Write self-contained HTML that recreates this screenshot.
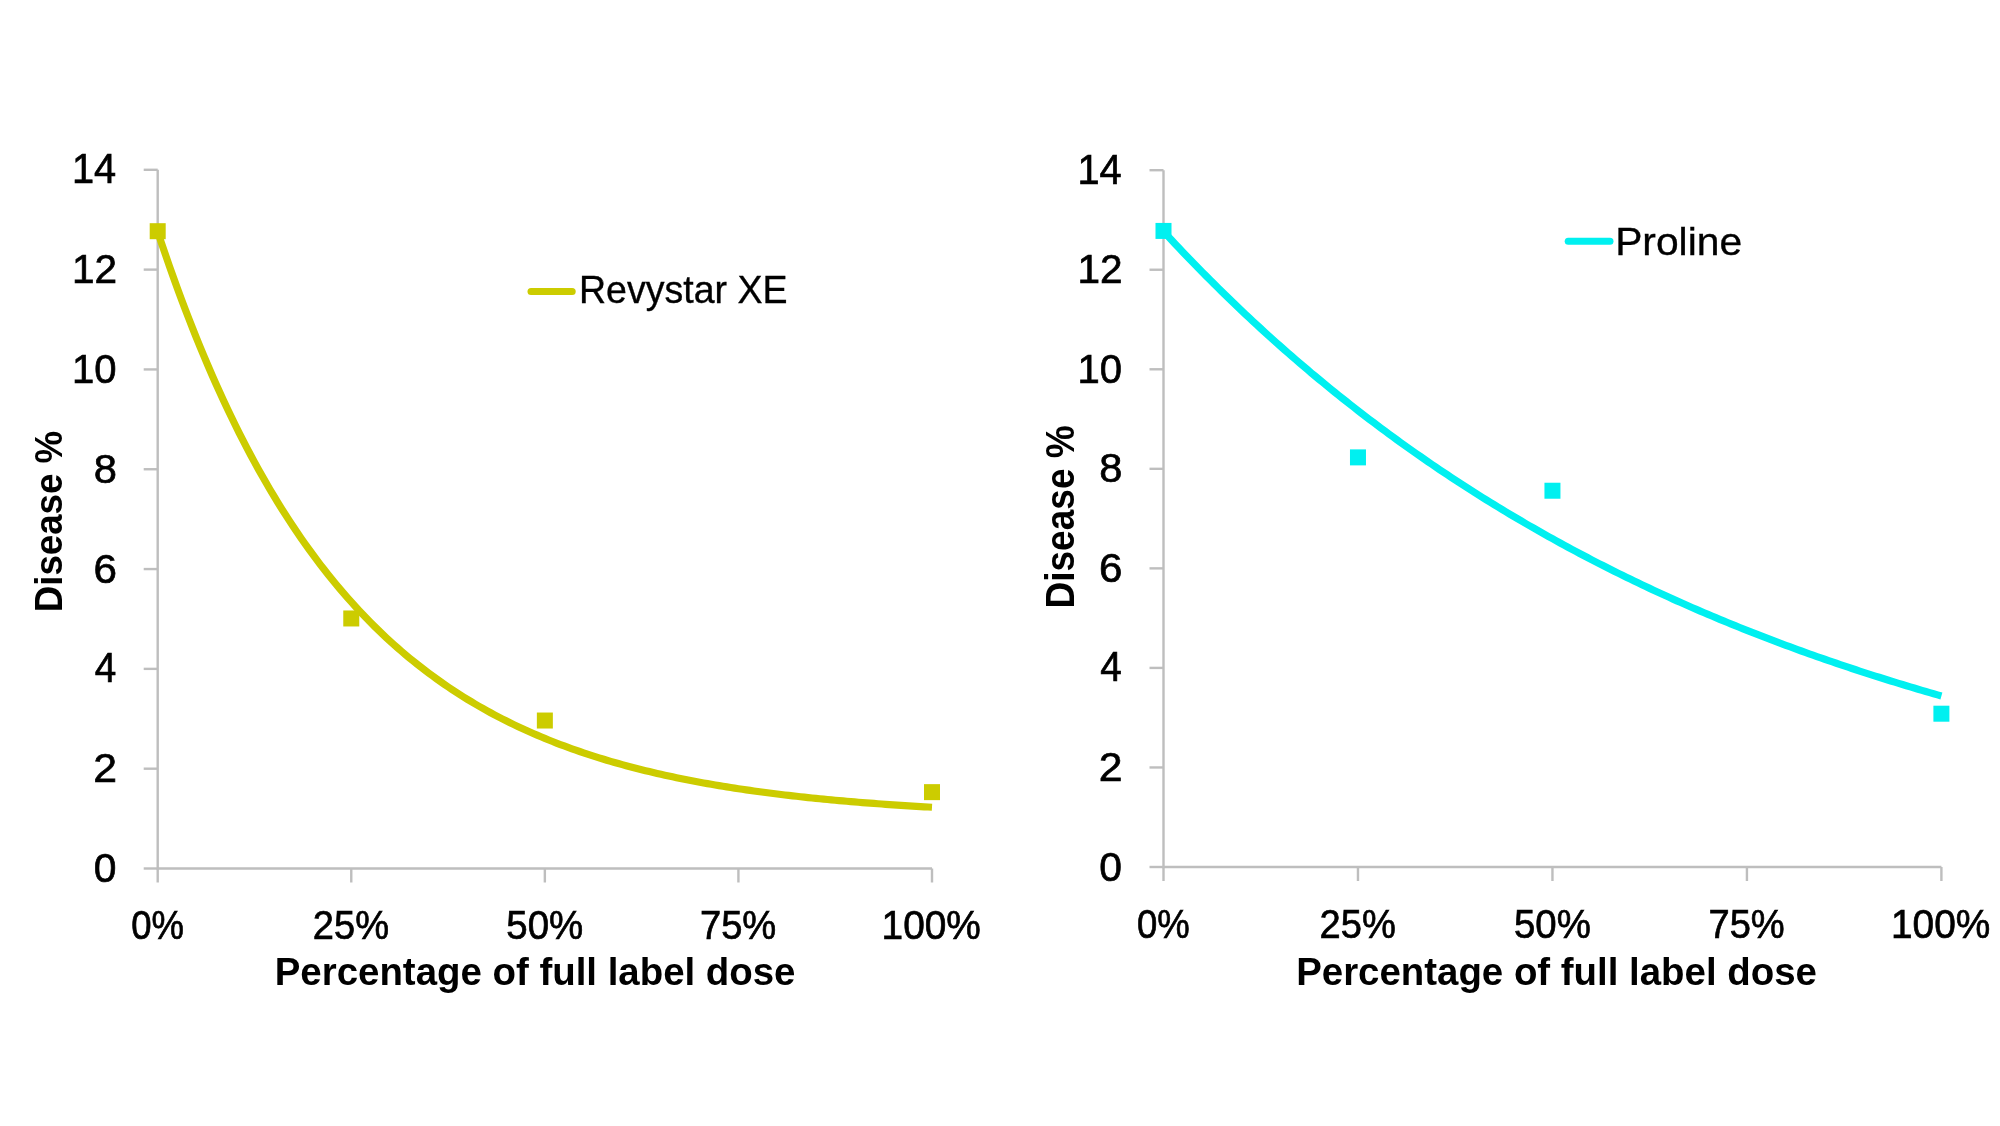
<!DOCTYPE html>
<html><head><meta charset="utf-8"><style>html,body{margin:0;padding:0;background:#fff;width:2000px;height:1126px;overflow:hidden}</style></head>
<body>
<svg width="2000" height="1126" viewBox="0 0 2000 1126" style="position:absolute;left:0;top:0;font-family:'Liberation Sans',sans-serif;filter:blur(0.6px)">
<rect width="2000" height="1126" fill="#fff"/>
<path d="M157.70,169.80 V868.50 H932.00" fill="none" stroke="#BEBEBE" stroke-width="2.4"/>
<path d="M143.70,868.50 H157.70" stroke="#BEBEBE" stroke-width="2.4"/>
<path d="M143.70,768.69 H157.70" stroke="#BEBEBE" stroke-width="2.4"/>
<path d="M143.70,668.87 H157.70" stroke="#BEBEBE" stroke-width="2.4"/>
<path d="M143.70,569.06 H157.70" stroke="#BEBEBE" stroke-width="2.4"/>
<path d="M143.70,469.24 H157.70" stroke="#BEBEBE" stroke-width="2.4"/>
<path d="M143.70,369.43 H157.70" stroke="#BEBEBE" stroke-width="2.4"/>
<path d="M143.70,269.61 H157.70" stroke="#BEBEBE" stroke-width="2.4"/>
<path d="M143.70,169.80 H157.70" stroke="#BEBEBE" stroke-width="2.4"/>
<path d="M157.70,868.50 V882.50" stroke="#BEBEBE" stroke-width="2.4"/>
<path d="M351.27,868.50 V882.50" stroke="#BEBEBE" stroke-width="2.4"/>
<path d="M544.85,868.50 V882.50" stroke="#BEBEBE" stroke-width="2.4"/>
<path d="M738.42,868.50 V882.50" stroke="#BEBEBE" stroke-width="2.4"/>
<path d="M932.00,868.50 V882.50" stroke="#BEBEBE" stroke-width="2.4"/>
<text transform="translate(93.87,882.00) scale(0.9819,1)" style="font-size:41.55px;" fill="#000" stroke="#000" stroke-width="0.7">0</text>
<text transform="translate(93.36,782.19) scale(1.0293,1)" style="font-size:41.55px;" fill="#000" stroke="#000" stroke-width="0.7">2</text>
<text transform="translate(94.65,682.37) scale(0.9179,1)" style="font-size:42.15px;" fill="#000" stroke="#000" stroke-width="0.7">4</text>
<text transform="translate(93.39,582.56) scale(1.0159,1)" style="font-size:41.55px;" fill="#000" stroke="#000" stroke-width="0.7">6</text>
<text transform="translate(93.67,482.74) scale(1.0029,1)" style="font-size:41.55px;" fill="#000" stroke="#000" stroke-width="0.7">8</text>
<text transform="translate(71.95,382.93) scale(0.9647,1)" style="font-size:41.55px;" fill="#000" stroke="#000" stroke-width="0.7">10</text>
<text transform="translate(71.92,283.11) scale(0.9764,1)" style="font-size:41.55px;" fill="#000" stroke="#000" stroke-width="0.7">12</text>
<text transform="translate(71.98,183.30) scale(0.9433,1)" style="font-size:42.15px;" fill="#000" stroke="#000" stroke-width="0.7">14</text>
<text transform="translate(131.24,938.50) scale(0.9098,1)" style="font-size:40.11px;" fill="#000" stroke="#000" stroke-width="0.7">0%</text>
<text transform="translate(312.87,938.50) scale(0.9498,1)" style="font-size:40.11px;" fill="#000" stroke="#000" stroke-width="0.7">25%</text>
<text transform="translate(506.31,938.50) scale(0.9578,1)" style="font-size:40.11px;" fill="#000" stroke="#000" stroke-width="0.7">50%</text>
<text transform="translate(699.94,938.50) scale(0.9453,1)" style="font-size:40.35px;" fill="#000" stroke="#000" stroke-width="0.7">75%</text>
<text transform="translate(881.55,938.50) scale(0.9682,1)" style="font-size:40.11px;" fill="#000" stroke="#000" stroke-width="0.7">100%</text>
<path d="M157.70,231.73 L161.57,243.32 L165.44,254.68 L169.31,265.82 L173.19,276.74 L177.06,287.44 L180.93,297.93 L184.80,308.21 L188.67,318.28 L192.54,328.16 L196.41,337.85 L200.29,347.34 L204.16,356.64 L208.03,365.76 L211.90,374.70 L215.77,383.47 L219.64,392.06 L223.52,400.48 L227.39,408.73 L231.26,416.82 L235.13,424.75 L239.00,432.53 L242.87,440.15 L246.74,447.62 L250.62,454.94 L254.49,462.12 L258.36,469.15 L262.23,476.05 L266.10,482.81 L269.97,489.44 L273.84,495.93 L277.72,502.30 L281.59,508.54 L285.46,514.66 L289.33,520.66 L293.20,526.53 L297.07,532.30 L300.95,537.95 L304.82,543.48 L308.69,548.91 L312.56,554.23 L316.43,559.44 L320.30,564.56 L324.17,569.57 L328.05,574.48 L331.92,579.29 L335.79,584.01 L339.66,588.64 L343.53,593.17 L347.40,597.62 L351.27,601.98 L355.15,606.25 L359.02,610.43 L362.89,614.54 L366.76,618.56 L370.63,622.50 L374.50,626.37 L378.38,630.16 L382.25,633.87 L386.12,637.51 L389.99,641.08 L393.86,644.58 L397.73,648.01 L401.60,651.37 L405.48,654.66 L409.35,657.89 L413.22,661.06 L417.09,664.16 L420.96,667.20 L424.83,670.18 L428.70,673.11 L432.58,675.97 L436.45,678.78 L440.32,681.53 L444.19,684.23 L448.06,686.88 L451.93,689.47 L455.81,692.01 L459.68,694.50 L463.55,696.94 L467.42,699.34 L471.29,701.68 L475.16,703.98 L479.03,706.24 L482.91,708.45 L486.78,710.62 L490.65,712.74 L494.52,714.82 L498.39,716.86 L502.26,718.86 L506.13,720.82 L510.01,722.74 L513.88,724.63 L517.75,726.47 L521.62,728.28 L525.49,730.06 L529.36,731.80 L533.24,733.50 L537.11,735.17 L540.98,736.81 L544.85,738.42 L548.72,739.99 L552.59,741.53 L556.46,743.05 L560.34,744.53 L564.21,745.98 L568.08,747.41 L571.95,748.80 L575.82,750.17 L579.69,751.51 L583.57,752.83 L587.44,754.12 L591.31,755.38 L595.18,756.62 L599.05,757.83 L602.92,759.02 L606.79,760.19 L610.67,761.33 L614.54,762.46 L618.41,763.55 L622.28,764.63 L626.15,765.69 L630.02,766.72 L633.89,767.74 L637.77,768.73 L641.64,769.71 L645.51,770.66 L649.38,771.60 L653.25,772.52 L657.12,773.42 L661.00,774.30 L664.87,775.16 L668.74,776.01 L672.61,776.84 L676.48,777.66 L680.35,778.45 L684.22,779.24 L688.10,780.00 L691.97,780.76 L695.84,781.49 L699.71,782.22 L703.58,782.92 L707.45,783.62 L711.32,784.30 L715.20,784.97 L719.07,785.62 L722.94,786.26 L726.81,786.89 L730.68,787.50 L734.55,788.11 L738.42,788.70 L742.30,789.28 L746.17,789.85 L750.04,790.41 L753.91,790.95 L757.78,791.49 L761.65,792.01 L765.53,792.53 L769.40,793.03 L773.27,793.53 L777.14,794.01 L781.01,794.49 L784.88,794.95 L788.75,795.41 L792.63,795.86 L796.50,796.29 L800.37,796.72 L804.24,797.15 L808.11,797.56 L811.98,797.96 L815.86,798.36 L819.73,798.75 L823.60,799.13 L827.47,799.50 L831.34,799.87 L835.21,800.23 L839.08,800.58 L842.96,800.93 L846.83,801.27 L850.70,801.60 L854.57,801.92 L858.44,802.24 L862.31,802.55 L866.18,802.86 L870.06,803.16 L873.93,803.45 L877.80,803.74 L881.67,804.03 L885.54,804.30 L889.41,804.57 L893.28,804.84 L897.16,805.10 L901.03,805.36 L904.90,805.61 L908.77,805.85 L912.64,806.09 L916.51,806.33 L920.39,806.56 L924.26,806.79 L928.13,807.01 L932.00,807.23" fill="none" stroke="#CCCC00" stroke-width="7.2" stroke-linejoin="round"/>
<rect x="149.70" y="223.19" width="16" height="16" fill="#CCCC00"/>
<rect x="343.27" y="610.47" width="16" height="16" fill="#CCCC00"/>
<rect x="536.85" y="712.53" width="16" height="16" fill="#CCCC00"/>
<rect x="924.00" y="784.14" width="16" height="16" fill="#CCCC00"/>
<path d="M1163.50,170.20 V867.00 H1941.40" fill="none" stroke="#BEBEBE" stroke-width="2.4"/>
<path d="M1149.50,867.00 H1163.50" stroke="#BEBEBE" stroke-width="2.4"/>
<path d="M1149.50,767.46 H1163.50" stroke="#BEBEBE" stroke-width="2.4"/>
<path d="M1149.50,667.91 H1163.50" stroke="#BEBEBE" stroke-width="2.4"/>
<path d="M1149.50,568.37 H1163.50" stroke="#BEBEBE" stroke-width="2.4"/>
<path d="M1149.50,468.83 H1163.50" stroke="#BEBEBE" stroke-width="2.4"/>
<path d="M1149.50,369.29 H1163.50" stroke="#BEBEBE" stroke-width="2.4"/>
<path d="M1149.50,269.74 H1163.50" stroke="#BEBEBE" stroke-width="2.4"/>
<path d="M1149.50,170.20 H1163.50" stroke="#BEBEBE" stroke-width="2.4"/>
<path d="M1163.50,867.00 V881.00" stroke="#BEBEBE" stroke-width="2.4"/>
<path d="M1357.97,867.00 V881.00" stroke="#BEBEBE" stroke-width="2.4"/>
<path d="M1552.45,867.00 V881.00" stroke="#BEBEBE" stroke-width="2.4"/>
<path d="M1746.93,867.00 V881.00" stroke="#BEBEBE" stroke-width="2.4"/>
<path d="M1941.40,867.00 V881.00" stroke="#BEBEBE" stroke-width="2.4"/>
<text transform="translate(1099.37,880.50) scale(0.9819,1)" style="font-size:41.55px;" fill="#000" stroke="#000" stroke-width="0.7">0</text>
<text transform="translate(1098.86,780.96) scale(1.0293,1)" style="font-size:41.55px;" fill="#000" stroke="#000" stroke-width="0.7">2</text>
<text transform="translate(1100.15,681.41) scale(0.9179,1)" style="font-size:42.15px;" fill="#000" stroke="#000" stroke-width="0.7">4</text>
<text transform="translate(1098.89,581.87) scale(1.0159,1)" style="font-size:41.55px;" fill="#000" stroke="#000" stroke-width="0.7">6</text>
<text transform="translate(1099.17,482.33) scale(1.0029,1)" style="font-size:41.55px;" fill="#000" stroke="#000" stroke-width="0.7">8</text>
<text transform="translate(1077.45,382.79) scale(0.9647,1)" style="font-size:41.55px;" fill="#000" stroke="#000" stroke-width="0.7">10</text>
<text transform="translate(1077.42,283.24) scale(0.9764,1)" style="font-size:41.55px;" fill="#000" stroke="#000" stroke-width="0.7">12</text>
<text transform="translate(1077.48,183.70) scale(0.9433,1)" style="font-size:42.15px;" fill="#000" stroke="#000" stroke-width="0.7">14</text>
<text transform="translate(1137.04,938.00) scale(0.8938,1)" style="font-size:40.83px;" fill="#000" stroke="#000" stroke-width="0.7">0%</text>
<text transform="translate(1319.57,938.00) scale(0.9331,1)" style="font-size:40.83px;" fill="#000" stroke="#000" stroke-width="0.7">25%</text>
<text transform="translate(1513.91,938.00) scale(0.9410,1)" style="font-size:40.83px;" fill="#000" stroke="#000" stroke-width="0.7">50%</text>
<text transform="translate(1708.44,938.00) scale(0.9287,1)" style="font-size:41.07px;" fill="#000" stroke="#000" stroke-width="0.7">75%</text>
<text transform="translate(1890.95,938.00) scale(0.9512,1)" style="font-size:40.83px;" fill="#000" stroke="#000" stroke-width="0.7">100%</text>
<path d="M1163.50,231.43 L1167.39,235.64 L1171.28,239.81 L1175.17,243.96 L1179.06,248.07 L1182.95,252.16 L1186.84,256.23 L1190.73,260.26 L1194.62,264.27 L1198.51,268.26 L1202.39,272.21 L1206.28,276.14 L1210.17,280.05 L1214.06,283.92 L1217.95,287.78 L1221.84,291.60 L1225.73,295.40 L1229.62,299.18 L1233.51,302.93 L1237.40,306.65 L1241.29,310.35 L1245.18,314.03 L1249.07,317.68 L1252.96,321.30 L1256.85,324.90 L1260.74,328.48 L1264.63,332.04 L1268.52,335.57 L1272.41,339.07 L1276.30,342.56 L1280.18,346.02 L1284.07,349.45 L1287.96,352.87 L1291.85,356.26 L1295.74,359.63 L1299.63,362.97 L1303.52,366.30 L1307.41,369.60 L1311.30,372.88 L1315.19,376.13 L1319.08,379.37 L1322.97,382.58 L1326.86,385.78 L1330.75,388.95 L1334.64,392.10 L1338.53,395.23 L1342.42,398.34 L1346.31,401.42 L1350.20,404.49 L1354.09,407.54 L1357.97,410.56 L1361.86,413.57 L1365.75,416.55 L1369.64,419.52 L1373.53,422.47 L1377.42,425.39 L1381.31,428.30 L1385.20,431.19 L1389.09,434.06 L1392.98,436.90 L1396.87,439.73 L1400.76,442.55 L1404.65,445.34 L1408.54,448.11 L1412.43,450.87 L1416.32,453.60 L1420.21,456.32 L1424.10,459.02 L1427.99,461.71 L1431.88,464.37 L1435.76,467.02 L1439.65,469.65 L1443.54,472.26 L1447.43,474.85 L1451.32,477.43 L1455.21,479.99 L1459.10,482.53 L1462.99,485.05 L1466.88,487.56 L1470.77,490.05 L1474.66,492.53 L1478.55,494.99 L1482.44,497.43 L1486.33,499.86 L1490.22,502.27 L1494.11,504.66 L1498.00,507.04 L1501.89,509.40 L1505.78,511.75 L1509.67,514.08 L1513.56,516.39 L1517.44,518.69 L1521.33,520.97 L1525.22,523.24 L1529.11,525.50 L1533.00,527.73 L1536.89,529.96 L1540.78,532.17 L1544.67,534.36 L1548.56,536.54 L1552.45,538.70 L1556.34,540.85 L1560.23,542.99 L1564.12,545.11 L1568.01,547.22 L1571.90,549.31 L1575.79,551.39 L1579.68,553.46 L1583.57,555.51 L1587.46,557.55 L1591.35,559.57 L1595.23,561.58 L1599.12,563.58 L1603.01,565.57 L1606.90,567.54 L1610.79,569.49 L1614.68,571.44 L1618.57,573.37 L1622.46,575.29 L1626.35,577.20 L1630.24,579.09 L1634.13,580.97 L1638.02,582.84 L1641.91,584.69 L1645.80,586.54 L1649.69,588.37 L1653.58,590.19 L1657.47,591.99 L1661.36,593.79 L1665.25,595.57 L1669.14,597.34 L1673.02,599.10 L1676.91,600.85 L1680.80,602.58 L1684.69,604.30 L1688.58,606.02 L1692.47,607.72 L1696.36,609.41 L1700.25,611.09 L1704.14,612.75 L1708.03,614.41 L1711.92,616.05 L1715.81,617.69 L1719.70,619.31 L1723.59,620.92 L1727.48,622.52 L1731.37,624.11 L1735.26,625.69 L1739.15,627.26 L1743.04,628.82 L1746.93,630.37 L1750.81,631.91 L1754.70,633.44 L1758.59,634.95 L1762.48,636.46 L1766.37,637.96 L1770.26,639.45 L1774.15,640.93 L1778.04,642.39 L1781.93,643.85 L1785.82,645.30 L1789.71,646.74 L1793.60,648.17 L1797.49,649.59 L1801.38,651.00 L1805.27,652.40 L1809.16,653.79 L1813.05,655.17 L1816.94,656.54 L1820.83,657.91 L1824.72,659.26 L1828.60,660.61 L1832.49,661.94 L1836.38,663.27 L1840.27,664.59 L1844.16,665.90 L1848.05,667.20 L1851.94,668.49 L1855.83,669.77 L1859.72,671.05 L1863.61,672.32 L1867.50,673.57 L1871.39,674.82 L1875.28,676.07 L1879.17,677.30 L1883.06,678.52 L1886.95,679.74 L1890.84,680.95 L1894.73,682.15 L1898.62,683.34 L1902.51,684.53 L1906.39,685.70 L1910.28,686.87 L1914.17,688.03 L1918.06,689.19 L1921.95,690.33 L1925.84,691.47 L1929.73,692.60 L1933.62,693.72 L1937.51,694.84 L1941.40,695.95" fill="none" stroke="#00F0F0" stroke-width="7.2" stroke-linejoin="round"/>
<rect x="1155.50" y="222.92" width="16" height="16" fill="#00F0F0"/>
<rect x="1349.97" y="449.38" width="16" height="16" fill="#00F0F0"/>
<rect x="1544.45" y="482.73" width="16" height="16" fill="#00F0F0"/>
<rect x="1933.40" y="705.70" width="16" height="16" fill="#00F0F0"/>
<text transform="translate(274.76,985.00) scale(1.0114,1)" style="font-size:37.98px;font-weight:bold;" fill="#000">Percentage of full label dose</text>
<text transform="translate(1296.16,985.00) scale(1.0114,1)" style="font-size:37.98px;font-weight:bold;" fill="#000">Percentage of full label dose</text>
<text transform="translate(61.50,612.22) rotate(-90) scale(0.9376,1)" style="font-size:39.09px;font-weight:bold;" fill="#000">Disease %</text>
<text transform="translate(1074.30,608.54) rotate(-90) scale(0.9280,1)" style="font-size:39.92px;font-weight:bold;" fill="#000">Disease %</text>
<path d="M531,291.4 H572.2" stroke="#CCCC00" stroke-width="7" stroke-linecap="round"/>
<text transform="translate(579.02,303.00) scale(0.9530,1)" style="font-size:39.39px;" fill="#000" stroke="#000" stroke-width="0.35">Revystar XE</text>
<path d="M1568.2,241.3 H1610" stroke="#00F0F0" stroke-width="7" stroke-linecap="round"/>
<text transform="translate(1615.16,254.50) scale(1.0362,1)" style="font-size:39.36px;" fill="#000" stroke="#000" stroke-width="0.35">Proline</text>
</svg>
</body></html>
